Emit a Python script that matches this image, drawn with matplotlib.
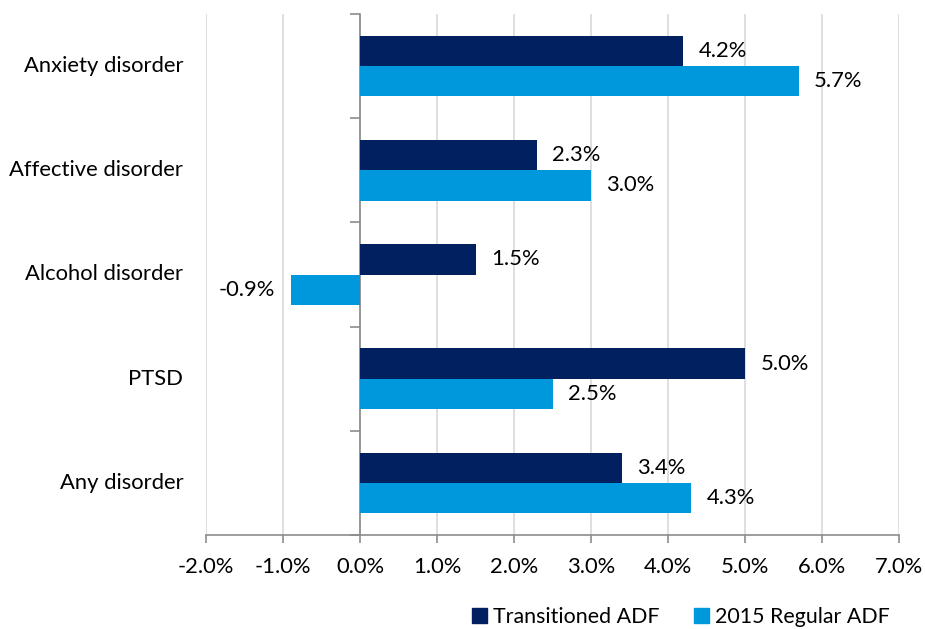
import matplotlib
matplotlib.use("Agg")
import matplotlib.pyplot as plt
import numpy as np
from matplotlib.patches import Patch

categories = ["Anxiety disorder", "Affective disorder", "Alcohol disorder", "PTSD", "Any disorder"]
transitioned = [4.2, 2.3, 1.5, 5.0, 3.4]
regular_2015 = [5.7, 3.0, -0.9, 2.5, 4.3]
series_names = ["Transitioned ADF", "2015 Regular ADF"]
xticks = [-2, -1, 0, 1, 2, 3, 4, 5, 6, 7]

plt.rcParams['font.family'] = ['Lato', 'DejaVu Sans']
dark = "#002060"
light = "#0098DD"
grey = "#8c8c8c"
fs = 15.8

fig = plt.figure(figsize=(9.25, 6.29), dpi=100)
ax = fig.add_axes([206/925, 1-535/629, (899-206)/925, (535-14)/629])

y = np.arange(len(categories))
h = 0.29
ax.barh(y - h/2, transitioned, height=h, color=dark, zorder=3)
ax.barh(y + h/2, regular_2015, height=h, color=light, zorder=3)

for yi, v in zip(y - h/2, transitioned):
    ax.annotate(f"{v:.1f}%", (v, yi), xytext=(11 if v >= 0 else -11, 0), textcoords="offset points",
                ha="left" if v >= 0 else "right", va="center", fontsize=fs)
for yi, v in zip(y + h/2, regular_2015):
    ax.annotate(f"{v:.1f}%", (v, yi), xytext=(11 if v >= 0 else -11, 0), textcoords="offset points",
                ha="left" if v >= 0 else "right", va="center", fontsize=fs)

ax.set_xlim(-2, 7)
ax.set_ylim(len(categories) - 0.5, -0.5)
ax.set_xticks(xticks)
ax.set_xticklabels([f"{t:.1f}%" for t in xticks], fontsize=fs)
ax.xaxis.grid(True, color="#d9d9d9", linewidth=1.2, zorder=0)
ax.tick_params(axis="x", length=6, color=grey, width=1.2, pad=10)

ax.spines["top"].set_visible(False)
ax.spines["right"].set_visible(False)
ax.spines["bottom"].set_color(grey)
ax.spines["bottom"].set_linewidth(1.2)
ax.spines["left"].set_position(("data", 0))
ax.spines["left"].set_color(grey)
ax.spines["left"].set_linewidth(1.2)
ax.set_yticks(np.arange(len(categories) + 1) - 0.5)
ax.set_yticklabels([])
ax.tick_params(axis="y", length=7, color=grey, width=1.2)

for yi, c in zip(y, categories):
    ax.text(-0.033, yi, c, transform=ax.get_yaxis_transform(), ha="right", va="center", fontsize=fs)

handles = [Patch(color=dark), Patch(color=light)]
fig.legend(handles, series_names, loc="center", bbox_to_anchor=(681/925, 1-617/629), ncol=2,
           frameon=False, fontsize=15.4, handlelength=0.7, handleheight=0.7, columnspacing=1.6,
           handletextpad=0.3, borderpad=0, borderaxespad=0)

fig.savefig("out.png", dpi=100)
